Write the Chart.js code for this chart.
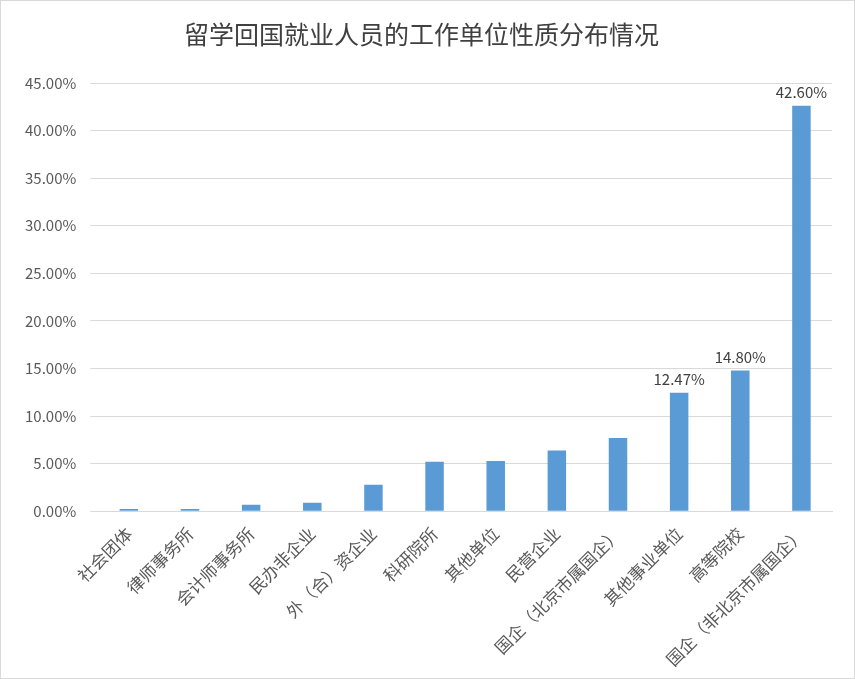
<!DOCTYPE html>
<html><head><meta charset="utf-8">
<script src="https://cdn.jsdelivr.net/npm/chart.js@4"></script>
<style>
body{margin:0;background:#fff}
#wrap{position:absolute;left:0;top:0;width:853px;height:677px;border:1px solid #d9d9d9}
</style></head>
<body><div id="wrap"><canvas id="c"></canvas></div>
<script>
const categories = ['社会团体','律师事务所','会计师事务所','民办非企业','外（合）资企业','科研院所','其他单位','民营企业','国企（北京市属国企）','其他事业单位','高等院校','国企（非北京市属国企）'];
const values = [0.25, 0.25, 0.7, 0.9, 2.8, 5.2, 5.3, 6.4, 7.7, 12.47, 14.80, 42.60];
const labelled = [9, 10, 11];

const font = "'Noto Sans CJK SC', sans-serif";

const valueLabels = {
  id: 'valueLabels',
  afterDatasetsDraw(chart) {
    const ctx = chart.ctx;
    const meta = chart.getDatasetMeta(0);
    ctx.save();
    ctx.font = "15px " + font;
    ctx.fillStyle = '#404040';
    ctx.textAlign = 'center';
    ctx.textBaseline = 'bottom';
    labelled.forEach(i => {
      const bar = meta.data[i];
      ctx.fillText(values[i].toFixed(2) + '%', bar.x, bar.y - 6);
    });
    ctx.restore();
  }
};

new Chart(document.getElementById('c'), {
  type: 'bar',
  data: {
    labels: categories,
    datasets: [{ data: values, backgroundColor: '#5b9bd5', categoryPercentage: 0.55, barPercentage: 0.55 }]
  },
  options: {
    responsive: true, maintainAspectRatio: false, animation: false,
    layout: { padding: { left: 10, right: 22, top: 8, bottom: 4 } },
    plugins: {
      legend: { display: false },
      tooltip: { enabled: false },
      title: { display: true, text: '留学回国就业人员的工作单位性质分布情况',
        font: { family: font, size: 25, weight: 'normal' }, color: '#404040', padding: { top: 10, bottom: 34 } }
    },
    scales: {
      x: {
        grid: { display: false },
        border: { color: '#d9d9d9' },
        ticks: { font: { family: font, size: 17 }, color: '#595959', maxRotation: 45, minRotation: 45, padding: 4 }
      },
      y: {
        min: 0, max: 45,
        grid: { color: '#d9d9d9' },
        border: { display: false },
        ticks: { stepSize: 5, font: { family: font, size: 15 }, color: '#595959', padding: 14,
          callback: v => v.toFixed(2) + '%' }
      }
    }
  },
  plugins: [valueLabels]
});
</script></body></html>
